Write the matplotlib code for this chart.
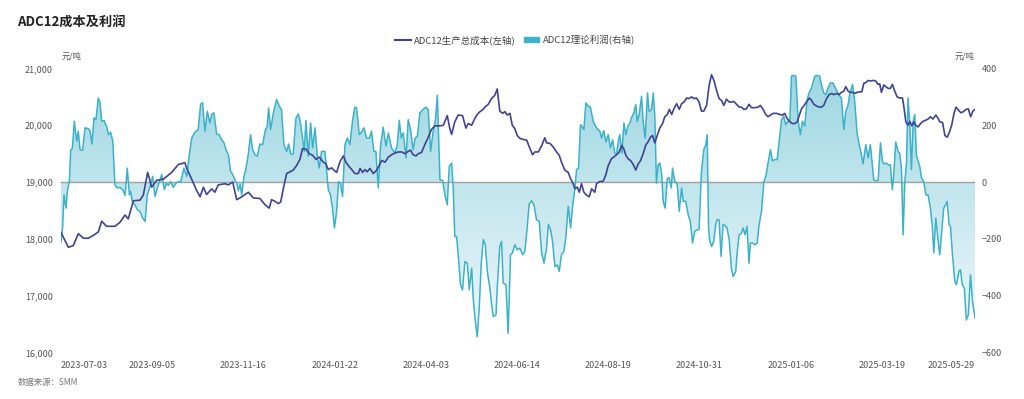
import numpy as np
import matplotlib
matplotlib.use("Agg")
import matplotlib.pyplot as plt
from matplotlib.lines import Line2D
from matplotlib.patches import Patch
from matplotlib.colors import LinearSegmentedColormap

plt.rcParams['font.family'] = ['Noto Sans CJK SC', 'DejaVu Sans']

# category axis: trading-day index, labels every 46 days
tick_idx = [0, 46, 92, 138, 184, 230, 276, 322, 368, 414, 461]
tick_labels = ['2023-07-03', '2023-09-05', '2023-11-16', '2024-01-22', '2024-04-03',
               '2024-06-14', '2024-08-19', '2024-10-31', '2025-01-06', '2025-03-19',
               '2025-05-29']

# ADC12 total production cost (yuan/t, left axis)
cost_idx = [0, 3.7, 6.2, 8.7, 11.3, 13.8, 16.3, 18.8, 20.5, 23, 27.2, 29.7, 32.3, 33.9, 36.5,
            39.8, 41.5, 43.7, 45.7, 48.2, 51.6, 54.1, 55.8, 57.5, 59.2, 62.5, 63.4, 65.9, 68.4,
            70.1, 71.8, 73.4, 76, 77.6, 79.3, 82.7, 84.4, 86.6, 88.6, 90.3, 94.5, 97, 100.3,
            102.9, 105.0, 106.2, 107.9, 109.6, 110.8, 112.1, 113.8, 115.5, 117.1, 118.8, 120.5,
            121.8, 123.5, 125.2, 126.9, 128.6, 130.3, 132, 133.6, 134.8, 136.5, 137.6, 139,
            140.7, 142.4, 143.7, 144.9, 146.6, 148.2, 149.9, 150.8, 152.1, 153.3, 154.4, 155.8,
            157.5, 159.2, 160.5, 161.7, 163.4, 165.1, 166.7, 168.4, 170.1, 171.8, 173.4, 175.1,
            176.3, 177.6, 179, 180.2, 181.8, 183.5, 185.2, 186.9, 188.6, 191.1, 192.8, 194.8,
            196.1, 197, 198.6, 200.3, 202.5, 204.2, 205.4, 207.1, 208.7, 209.9, 211.3, 212.6,
            213.8, 215.5, 217.1, 218.8, 220, 221.3, 222.7, 223.9, 225.0, 226.4, 227.6, 228.9,
            230.1, 231.4, 233.1, 234.8, 236.5, 237.8, 239.0, 240.7, 242.4, 244.0, 244.9, 246.6,
            248.2, 249.9, 251.3, 252.4, 254.1, 255.8, 257.0, 258.3, 259.2, 260.4, 261.4, 262.5,
            263.7, 265.0, 266.4, 267.6, 269.2, 270.1, 271.8, 273.4, 274.8, 275.9, 277.6, 278.8,
            280.1, 281.4, 282.8, 283.8, 284.9, 286.0, 287.2, 288.6, 289.9, 291.1, 292.2, 293.6,
            294.9, 296.1, 297.3, 298.3, 299.5, 300.7, 302.0, 303.4, 304.5, 305.8, 306.8, 308.0,
            309.1, 310.5, 311.8, 313.0, 314.2, 315.5, 316.8, 318.0, 319.2, 320.5, 321.8, 323.0,
            324.2, 325.6, 326.9, 328.1, 329.3, 330.6, 331.9, 333.1, 334.3, 335.6, 337.0, 338.2,
            339.3, 340.7, 342.0, 343.2, 344.4, 345.7, 347.0, 348.2, 349.9, 351.6, 352.7, 354.1,
            355.4, 356.6, 357.8, 359.2, 360.8, 362.5, 363.9, 365.0, 366.2, 367.6, 368.9, 370.1,
            371.3, 372.3, 373.5, 374.6, 376.0, 377.4, 378.5, 379.7, 381.0, 382.4, 383.5, 384.7,
            386.1, 387.4, 388.6, 389.7, 391.1, 392.4, 393.6, 394.8, 395.8, 397.0, 398.2, 399.2,
            400.3, 401.5, 402.9, 403.9, 404.9, 405.9, 407.1, 408.2, 409.6, 410.9, 412.1, 412.9,
            413.8, 415.0, 416.0, 417.2, 418.3, 419.3, 420.5, 421.7, 423.0, 424.4, 425.0, 426.1,
            427.2, 428.1, 429.1, 430.1, 431.1, 432.3, 433.5, 434.8, 436.2, 437.3, 438.5, 439.8,
            441.2, 442.4, 443.2, 444.6, 445.8, 447.0, 448.0, 449.2, 450.4, 451.4, 452.6, 453.8,
            455.1, 456.5, 457.6, 458.8, 459.9, 461.0]
cost_val = [18110, 17850, 17880, 18090, 18010, 18010, 18060, 18120, 18310, 18220, 18220, 18290,
            18420, 18350, 18670, 18680, 18770, 19170, 18910, 19030, 19050, 19120, 19170, 19240,
            19310, 19340, 19240, 19050, 18850, 18740, 18910, 18780, 18880, 18820, 18950, 18970,
            18950, 19000, 18690, 18720, 18820, 18720, 18710, 18600, 18540, 18690, 18660, 18620,
            18650, 18880, 19150, 19180, 19210, 19290, 19400, 19590, 19580, 19500, 19470, 19400,
            19440, 19360, 19320, 19220, 19250, 19210, 19170, 19360, 19460, 19350, 19290, 19220,
            19150, 19150, 19240, 19170, 19220, 19180, 19240, 19150, 19210, 19290, 19380, 19350,
            19440, 19480, 19510, 19530, 19530, 19500, 19540, 19560, 19480, 19460, 19500, 19520,
            19660, 19790, 19930, 19990, 19990, 20000, 20170, 19940, 19840, 20060, 20180, 20170,
            19950, 20030, 20000, 20120, 20190, 20240, 20270, 20320, 20370, 20470, 20530, 20640,
            20250, 20210, 20240, 20180, 20210, 20000, 19940, 19820, 19770, 19750, 19740, 19590,
            19480, 19530, 19530, 19640, 19780, 19690, 19680, 19620, 19530, 19470, 19350, 19210,
            19170, 19060, 18970, 18880, 18910, 18820, 18970, 18820, 18770, 18740, 18880, 18820,
            18970, 19010, 19010, 19130, 19280, 19410, 19440, 19480, 19520, 19640, 19590, 19470,
            19410, 19380, 19310, 19210, 19320, 19370, 19500, 19650, 19710, 19790, 19820, 19690,
            19820, 19950, 20030, 20150, 20190, 20280, 20190, 20290, 20380, 20280, 20380, 20410,
            20480, 20470, 20500, 20470, 20480, 20410, 20250, 20250, 20350, 20710, 20890, 20790,
            20620, 20470, 20440, 20350, 20460, 20410, 20410, 20420, 20370, 20320, 20320, 20280,
            20290, 20370, 20310, 20310, 20320, 20350, 20280, 20190, 20150, 20180, 20210, 20210,
            20190, 20180, 20210, 20120, 20060, 20030, 20030, 20060, 20170, 20290, 20340, 20410,
            20480, 20440, 20370, 20340, 20320, 20320, 20350, 20470, 20540, 20560, 20540, 20560,
            20540, 20580, 20600, 20680, 20600, 20580, 20580, 20560, 20580, 20590, 20590, 20740,
            20750, 20790, 20780, 20790, 20780, 20720, 20730, 20580, 20710, 20680, 20650, 20650,
            20720, 20600, 20500, 20480, 20480, 20350, 20060, 20000, 20070, 19990, 20060, 20000,
            19970, 20030, 20070, 20090, 20110, 20150, 20110, 20180, 20120, 20060, 20050, 19820,
            19790, 19870, 20000, 20210, 20320, 20270, 20220, 20240, 20280, 20290, 20150, 20250,
            20280]

# ADC12 theoretical profit (yuan/t, right axis)
profit_idx = [0, 0.8, 1.5, 2.5, 3.2, 4.2, 4.9, 5.7, 6.7, 7.9, 8.7, 9.6, 10.9, 12.1, 13.8, 14.6,
              15.6, 16.6, 17.6, 18.8, 19.7, 20.5, 21.7, 23.0, 23.9, 25.0, 26.1, 27.2, 28.4, 29.7,
              31.1, 32.3, 33.4, 34.5, 35.1, 36.1, 37.3, 38.5, 39.8, 41.2, 42.4, 43.5, 44.9, 46.2,
              47.4, 48.6, 49.9, 50.8, 52.1, 53.1, 54.1, 55.3, 56.6, 58.0, 59.2, 60.3, 62.0, 63.4,
              64.7, 65.9, 67.6, 69.2, 70.4, 71.4, 72.6, 73.8, 75.1, 76.0, 77.1, 78.5, 79.8, 81.0,
              82.2, 83.2, 84.4, 85.5, 86.6, 87.7, 88.6, 89.4, 90.3, 91.1, 92.3, 93.3, 94.4, 95.6,
              96.6, 97.8, 99.0, 100.3, 101.7, 102.9, 104.0, 104.7, 105.7, 107.1, 108.7, 110.1,
              111.2, 112.4, 113.8, 114.8, 115.8, 117.1, 118.5, 119.7, 120.8, 121.8, 122.7, 123.5,
              124.7, 125.9, 126.9, 128.1, 129.2, 130.2, 131.4, 133.1, 134.8, 135.9, 136.9, 137.9,
              139.0, 140.0, 141.0, 142.0, 143.2, 144.4, 145.7, 147.1, 148.2, 149.1, 150.4, 151.6,
              152.8, 154.1, 155.5, 156.6, 157.8, 158.8, 160.0, 161.2, 162.5, 163.9, 165.1, 166.7,
              168.4, 169.6, 170.6, 171.6, 172.6, 174.0, 175.1, 176.3, 177.6, 178.6, 179.7, 181.0,
              182.4, 184.0, 185.2, 186.4, 187.7, 188.8, 189.8, 191.1, 192.5, 193.6, 194.8, 195.8,
              197.0, 197.8, 198.6, 199.5, 200.3, 201.5, 202.5, 203.7, 204.9, 205.9, 207.1, 207.9,
              208.8, 209.9, 210.9, 212.0, 213.0, 214.0, 215.0, 216.3, 217.2, 218.0, 219.4, 220.0,
              221.3, 222.2, 223.0, 224.4, 225.5, 226.7, 227.7, 228.9, 230.1, 231.4, 232.8, 233.9,
              235.1, 236.1, 237.3, 238.5, 239.8, 241.2, 242.4, 243.6, 244.9, 245.8, 246.9, 247.9,
              249.1, 250.3, 251.3, 252.4, 253.6, 254.6, 255.8, 256.3, 257.0, 258.0, 259.2, 260.0,
              261.0, 262.0, 262.7, 263.7, 264.7, 265.9, 267.0, 268.4, 269.2, 270.4, 271.8, 272.6,
              273.8, 274.8, 276.0, 277.1, 278.2, 279.3, 280.2, 281.2, 281.8, 282.9, 283.9, 284.9,
              285.9, 286.9, 287.7, 288.9, 289.9, 290.6, 291.6, 292.8, 293.6, 294.6, 295.8, 296.6,
              297.8, 298.7, 299.5, 300.3, 301.2, 302.0, 302.9, 303.7, 304.7, 305.8, 306.8, 307.8,
              308.4, 309.6, 310.8, 311.8, 313.0, 313.8, 315.1, 316.3, 317.4, 318.5, 319.6, 320.8,
              321.8, 323.0, 324.2, 325.2, 325.9, 326.6, 327.2, 328.2, 329.2, 330.2, 330.9, 331.9,
              332.9, 333.9, 334.9, 335.9, 337.0, 338.1, 339.0, 340.3, 341.0, 342.0, 343.2, 344.0,
              345.0, 346.0, 347.0, 347.7, 348.7, 349.9, 351.1, 352.1, 353.3, 354.5, 355.5, 356.6,
              357.8, 358.8, 360.0, 361.2, 362.2, 363.4, 364.5, 365.5, 366.7, 367.6, 368.4, 369.2,
              370.6, 371.8, 372.9, 373.9, 375.1, 376.3, 377.3, 378.5, 380.2, 381.3, 382.7, 383.5,
              384.7, 385.7, 386.9, 388.1, 389.4, 390.4, 391.4, 392.4, 393.6, 394.8, 395.8, 397.0,
              397.8, 399.2, 400.3, 401.5, 402.5, 403.7, 404.5, 405.9, 407.1, 408.2, 409.2, 409.9,
              410.9, 412.1, 413.3, 414.3, 415.0, 416.0, 417.2, 418.3, 419.3, 420.0, 421.0, 422.2,
              423.0, 423.9, 424.7, 425.6, 426.4, 427.2, 428.1, 428.9, 429.8, 430.6, 431.4, 432.3,
              433.1, 434.0, 435.1, 436.2, 437.3, 438.5, 439.5, 440.2, 441.2, 442.4, 443.2, 444.2,
              445.2, 446.2, 446.9, 447.9, 448.6, 449.6, 450.8, 451.6, 452.9, 453.6, 454.6, 455.6,
              456.6, 457.6, 458.7, 459.7, 461.0]
profit_val = [-212, -162, -45, -92, -33, 2, 114, 118, 214, 144, 179, 114, 112, 191, 188, 181,
              134, 226, 220, 296, 279, 214, 217, 196, 167, 176, 144, -12, -21, -19, -27, -47, 49,
              -45, -33, -74, -80, -98, -103, -127, -139, -45, -15, 20, -51, -21, 8, 26, -27, -4,
              -12, 2, -19, -4, 2, -1, 49, 20, 96, 155, 176, 185, 275, 279, 179, 249, 208, 238, 244,
              169, 167, 149, 138, 114, 96, 38, 26, 8, -4, -31, -9, -45, 20, 49, 96, 167, 114, 96,
              91, 134, 132, 179, 197, 261, 185, 244, 291, 267, 255, 132, 108, 134, 99, 99, 226,
              240, 208, 155, 108, 217, 91, 208, 120, 191, 96, 49, 108, 108, -27, -45, -92, -162,
              -103, 2, -9, -51, 132, 155, 132, 220, 264, 261, 167, 176, 191, 155, 155, 179, 108,
              108, -21, 132, 193, 126, 173, 120, 102, 132, 217, 155, 173, 85, 220, 185, 114, 155,
              161, 244, 255, 264, 255, 108, 179, 217, 306, 8, 5, -45, -80, 55, 67, -21, -192, -192,
              -256, -362, -380, -280, -286, -380, -303, -409, -480, -545, -445, -280, -203, -221,
              -315, -374, -433, -474, -468, -374, -227, -209, -356, -362, -533, -256, -250, -221,
              -239, -233, -256, -245, -162, -78, -66, -80, -133, -139, -250, -286, -233, -150,
              -168, -209, -298, -292, -315, -256, -245, -195, -86, -115, -162, -86, -21, 44, 49,
              202, 196, 185, 279, 267, 264, 214, 202, 188, 179, 155, 181, 141, 167, 120, 149, 102,
              99, 149, 167, 102, 208, 167, 197, 208, 226, 244, 273, 214, 238, 302, 214, 155, 314,
              249, 255, 314, 232, -4, 61, 67, 32, -68, -92, 14, 14, -21, 49, 2, -9, -103, -21, -68,
              -68, -115, -139, -215, -174, -168, -168, 38, 114, 132, 167, -162, -209, -227, -209,
              -150, -133, -133, -262, -150, -153, -162, -203, -303, -333, -315, -250, -186, -180,
              -162, -186, -156, -286, -215, -215, -221, -215, -150, -103, 2, 20, 67, 114, 75, 79,
              79, 144, 220, 232, 202, 214, 214, 373, 376, 373, 214, 167, 214, 197, 291, 314, 332,
              373, 376, 373, 344, 314, 308, 332, 349, 349, 334, 320, 306, 296, 185, 249, 273, 311,
              344, 285, 173, 134, 96, 64, 132, 85, 132, 61, 8, 5, 5, 138, 73, 64, 67, 61, 61, -27,
              26, 141, 108, 102, 44, -186, 2, 67, 296, 202, 44, 214, 238, 96, 73, 55, 14, 2, -45,
              -45, -92, -162, -250, -127, -209, -256, -174, -92, -80, -68, -150, -156, -256, -351,
              -362, -315, -309, -362, -374, -486, -468, -327, -421, -480]

cost_color = '#3f4394'
profit_color = '#3bb2c9'
text_color = '#555555'

fig = plt.figure(figsize=(10.24, 3.99), dpi=100)
ax = fig.add_axes([0.0596, 0.117, 0.8926, 0.7113])
ax2 = ax.twinx()

# profit area with vertical gradient, clipped to the fill polygon
ax2.set_xlim(0, 461)
ax2.set_ylim(-600, 400)
poly = ax2.fill_between(profit_idx, profit_val, 0, facecolor='none', edgecolor='none')
grad_cmap = LinearSegmentedColormap.from_list('g', ['#f4fafc', '#c3e6ee', '#8fd2df'])
grad = np.linspace(0, 1, 256).reshape(-1, 1)
img = ax2.imshow(grad, cmap=grad_cmap, aspect='auto', origin='lower',
                 extent=[0, 461, -600, 400], zorder=1, alpha=0.9)
img.set_clip_path(poly.get_paths()[0], transform=ax2.transData)
ax2.plot(profit_idx, profit_val, color=profit_color, lw=1.1, zorder=3)
ax2.axhline(0, color='#a0a0a0', lw=1, zorder=2)

ax.plot(cost_idx, cost_val, color=cost_color, lw=1.2, zorder=4)
ax.set_zorder(ax2.get_zorder() + 1)
ax.patch.set_visible(False)

ax.set_xlim(0, 461)
ax.set_ylim(16000, 21000)
ax.set_yticks([16000, 17000, 18000, 19000, 20000, 21000])
ax.set_yticklabels([f'{v:,}' for v in range(16000, 21001, 1000)])
ax2.set_yticks([-600, -400, -200, 0, 200, 400])

ax.set_xticks(tick_idx)
ax.set_xticklabels(tick_labels)
xl = ax.get_xticklabels()
xl[0].set_ha('left')
xl[-1].set_ha('right')

for a in (ax, ax2):
    for s in a.spines.values():
        s.set_visible(False)
    a.tick_params(length=0, labelsize=6.5, labelcolor=text_color)
ax.tick_params(axis='y', pad=6)
ax2.tick_params(axis='y', pad=5)
ax.tick_params(axis='x', pad=6)

fig.text(0.0703, 0.86, '元/吨', fontsize=6, color=text_color, ha='center', va='center')
fig.text(0.952, 0.86, '元/吨', fontsize=6, color=text_color, ha='right', va='center')

fig.text(0.017, 0.945, 'ADC12成本及利润', fontsize=9.5, fontweight='bold', color='#222222',
         ha='left', va='center')
fig.text(0.017, 0.042, '数据来源：SMM', fontsize=6, color='#777777', ha='left', va='center')

handles = [Line2D([], [], color=cost_color, lw=1.5),
           Patch(facecolor=profit_color, edgecolor=profit_color)]
fig.legend(handles, ['ADC12生产总成本(左轴)', 'ADC12理论利润(右轴)'], loc='center',
           bbox_to_anchor=(0.503, 0.9), ncol=2, frameon=False, fontsize=6.8,
           handlelength=1.6, handleheight=0.5, handletextpad=0.4, columnspacing=0.8,
           labelcolor='#444444')

fig.savefig('out.png', dpi=100)
